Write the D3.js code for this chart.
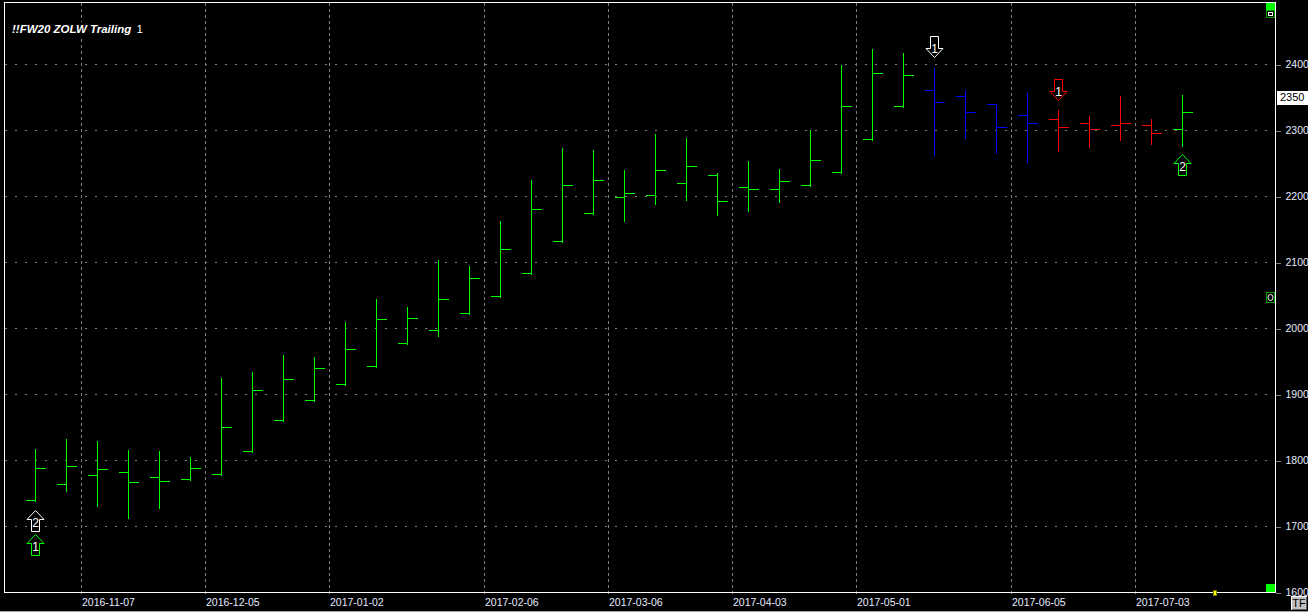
<!DOCTYPE html>
<html><head><meta charset="utf-8">
<script src="https://cdn.jsdelivr.net/npm/d3@7"></script>
<style>html,body{margin:0;padding:0;background:#000;overflow:hidden}</style>
</head><body>
<svg id="c" width="1308" height="612"></svg>
<script>
// ---- data ----
const weeks = ["2016-10-24","2016-10-31","2016-11-07","2016-11-14","2016-11-21","2016-11-28",
  "2016-12-05","2016-12-12","2016-12-19","2016-12-26","2017-01-02","2017-01-09","2017-01-16",
  "2017-01-23","2017-01-30","2017-02-06","2017-02-13","2017-02-20","2017-02-27","2017-03-06",
  "2017-03-13","2017-03-20","2017-03-27","2017-04-03","2017-04-10","2017-04-17","2017-04-24",
  "2017-05-01","2017-05-08","2017-05-15","2017-05-22","2017-05-29","2017-06-05","2017-06-12",
  "2017-06-19","2017-06-26","2017-07-03","2017-07-10"];
const opens  = [1739,1763,1777,1782,1774,1771,1779,1814,1861,1891,1915,1943,1977,1997,2022,2048,2084,2132,2175,2199,2202,2220,2232,2213,2211,2217,2237,2287,2337,2360,2352,2340,2322,2316,2310,2307,2308,2302];
const highs  = [1818,1834,1830,1817,1815,1806,1926,1935,1960,1958,2010,2046,2034,2104,2096,2163,2226,2274,2271,2241,2295,2289,2236,2254,2242,2301,2400,2424,2418,2396,2362,2340,2357,2332,2323,2353,2318,2354];
const lows   = [1739,1755,1732,1714,1729,1771,1779,1814,1861,1891,1915,1943,1977,1989,2022,2048,2084,2132,2175,2164,2189,2195,2173,2179,2192,2217,2237,2287,2337,2263,2290,2267,2253,2270,2276,2287,2280,2277];
const closes = [1788,1791,1786,1767,1768,1788,1850,1906,1923,1940,1968,2014,2015,2044,2076,2119,2181,2216,2225,2205,2239,2246,2193,2210,2223,2255,2337,2386,2384,2343,2328,2304,2311,2304,2302,2311,2296,2327];
const barStates = ["g","g","g","g","g","g","g","g","g","g","g","g","g","g","g","g","g","g","g","g",
  "g","g","g","g","g","g","g","g","g","b","b","b","b","r","r","r","r","g"];
const yTicks = [1600,1700,1800,1900,2000,2100,2200,2300,2400];
const xTickDates = ["2016-11-07","2016-12-05","2017-01-02","2017-02-06","2017-03-06","2017-04-03","2017-05-01","2017-06-05","2017-07-03"];
const lastPrice = 2350;
const signalDates  = ["2016-10-24","2016-10-24","2017-05-15","2017-06-12","2017-07-10"];
const signalDirs   = ["up","up","down","down","up"];
const signalLabels = ["2","1","1","1","2"];
const signalKinds  = ["w","g","w","r","g"];
const signalPrices = [1724,1688,2410,2345,2263];
const titleText = "!!FW20 ZOLW Trailing";
const titleSuffix = "1";

// ---- styles ----
const stateColor = {g:"#00ff00", b:"#0000ff", r:"#ff0000", w:"#ffffff"};
const gridColor = "#808080";
const labelColor = "#e6ecff";
const font = "'Liberation Sans', Arial, sans-serif";

const svg = d3.select("#c");
svg.append("rect").attr("width",1308).attr("height",612).attr("fill","#000");

const parse = d3.utcParse("%Y-%m-%d");
const L = 4.5, R = 1275.5, T = 2.5, B = 592.5;
const x = d3.scaleUtc().domain([parse("2016-11-07"), parse("2017-07-03")]).range([81.5, 1135.5]);
const y = d3.scaleLinear().domain([1600, 2400]).range([592.5, 64.5]);
const barX = s => { const d = parse(s); return x(d) + (x(d3.utcDay.offset(d,7)) - x(d)) / 2 + 0.5; };
const py = v => Math.round(y(v) - 0.5) + 0.5;

const g = svg.append("g").attr("shape-rendering","crispEdges");

// horizontal grid
g.selectAll("line.hg").data(yTicks).join("line")
  .attr("x1", L).attr("x2", R).attr("y1", d => py(d)).attr("y2", d => py(d))
  .attr("stroke", gridColor).attr("stroke-dasharray","2,8");
// vertical grid
g.selectAll("line.vg").data(xTickDates).join("line")
  .attr("x1", d => x(parse(d))).attr("x2", d => x(parse(d)))
  .attr("y1", T).attr("y2", 597)
  .attr("stroke", gridColor).attr("stroke-dasharray","3,3");

// border
g.append("path").attr("d", `M${L},${T}H${R}V${B}H${L}Z`).attr("fill","none").attr("stroke","#fff");

// y axis
const yAxis = d3.axisRight(y).tickValues(yTicks).tickSize(5).tickPadding(4.5).tickFormat(d3.format("d"));
const ya = svg.append("g").attr("transform", `translate(${R+0.5},0)`).call(yAxis);
ya.select(".domain").remove();
ya.selectAll(".tick line").attr("stroke", gridColor).attr("shape-rendering","crispEdges");
ya.selectAll(".tick text").attr("fill", labelColor).style("font", `10.5px ${font}`);

// x axis
const xAxis = d3.axisBottom(x).tickValues(xTickDates.map(parse)).tickSize(0).tickFormat(d3.utcFormat("%Y-%m-%d"));
const xa = svg.append("g").attr("transform", `translate(0,${B})`).call(xAxis);
xa.select(".domain").remove();
xa.selectAll(".tick text").attr("fill", labelColor).attr("text-anchor","start")
  .attr("y", 13.2).attr("dy", null).attr("x", 0).style("font", `10.5px ${font}`);

// title
svg.append("rect").attr("x",10).attr("y",22).attr("width",134).attr("height",15).attr("fill","#000");
svg.append("text").attr("x", 12).attr("y", 33.3).attr("fill","#fff")
  .style("font", `italic bold 11.5px ${font}`).text(titleText);
svg.append("text").attr("x", 136.5).attr("y", 33.3).attr("fill","#fff")
  .style("font", `11.5px ${font}`).text(titleSuffix);

// OHLC bars
const bars = weeks.map((w, i) => ({w, o: opens[i], h: highs[i], l: lows[i], c: closes[i], s: barStates[i]}));
const bg = g.append("g");
bars.forEach(b => {
  const cx = Math.floor(barX(b.w)) + 0.5;
  const col = stateColor[b.s];
  bg.append("line").attr("x1", cx).attr("x2", cx).attr("y1", py(b.h)).attr("y2", py(b.l) + 1).attr("stroke", col);
  bg.append("line").attr("x1", cx - 10).attr("x2", cx).attr("y1", py(b.o)).attr("y2", py(b.o)).attr("stroke", col);
  bg.append("line").attr("x1", cx).attr("x2", cx + 10).attr("y1", py(b.c)).attr("y2", py(b.c)).attr("stroke", col);
});

// signal arrows
function arrowPath(cx, tip, dir) {
  const hw = 8.5, sw = 4, hh = 9, len = 21, s = dir === "up" ? 1 : -1;
  return `M${cx},${tip}L${cx+hw},${tip+s*hh}L${cx+sw},${tip+s*hh}L${cx+sw},${tip+s*len}` +
         `L${cx-sw},${tip+s*len}L${cx-sw},${tip+s*hh}L${cx-hw},${tip+s*hh}Z`;
}
const ag = svg.append("g");
signalDates.forEach((d, i) => {
  const cx = Math.floor(barX(d)) + 0.5;
  const tip = py(signalPrices[i]);
  const dir = signalDirs[i];
  ag.append("path").attr("d", arrowPath(cx, tip, dir)).attr("fill","#000")
    .attr("stroke", stateColor[signalKinds[i]]).attr("stroke-width",1);
  ag.append("text").attr("x", cx).attr("y", dir === "up" ? tip + 12 : tip - 8.5)
    .attr("text-anchor","middle").attr("dominant-baseline","central")
    .attr("fill","#fff").style("font", `12px ${font}`).text(signalLabels[i]);
});

// last price box
svg.append("rect").attr("x", 1277).attr("y", Math.round(y(lastPrice)) - 7).attr("width", 31).attr("height", 14).attr("fill","#fff");
svg.append("text").attr("x", 1280).attr("y", y(lastPrice)).attr("dy","0.35em").attr("fill","#000")
  .style("font", `11px ${font}`).text(d3.format("d")(lastPrice));

// decorations
const dg = svg.append("g").attr("shape-rendering","crispEdges");
dg.append("rect").attr("x",1266).attr("y",3).attr("width",9).attr("height",7).attr("fill","#00ff00");
dg.append("rect").attr("x",1266.5).attr("y",10.5).attr("width",8).attr("height",7).attr("fill","#000").attr("stroke","#00a000");
dg.append("rect").attr("x",1268.5).attr("y",12.5).attr("width",4).attr("height",3).attr("fill","none").attr("stroke","#fff");
dg.append("rect").attr("x",1266.5).attr("y",292.5).attr("width",8).attr("height",10).attr("fill","#000").attr("stroke","#00a000");
svg.append("ellipse").attr("cx",1270.5).attr("cy",297.5).attr("rx",2.5).attr("ry",3).attr("fill","none").attr("stroke","#fff");
dg.append("rect").attr("x",1266).attr("y",584).attr("width",9).attr("height",8).attr("fill","#00ff00");
dg.append("rect").attr("x",1213.5).attr("y",590.5).attr("width",3).attr("height",5).attr("fill","#ffff00").attr("stroke","#808000");
dg.append("rect").attr("x",0).attr("y",611).attr("width",1308).attr("height",1).attr("fill","#a0a0a0");
dg.append("rect").attr("x",1291).attr("y",596).attr("width",16).attr("height",14).attr("fill","#c0c0c0");
dg.append("path").attr("d","M1291.5,609.5V596.5H1306.5").attr("fill","none").attr("stroke","#fff");
dg.append("path").attr("d","M1291.5,609.5H1306.5V596.5").attr("fill","none").attr("stroke","#606060");
svg.append("text").attr("x",1299).attr("y",607).attr("text-anchor","middle").attr("fill","#000")
  .style("font", `11px ${font}`).text("TF");
</script>
</body></html>
